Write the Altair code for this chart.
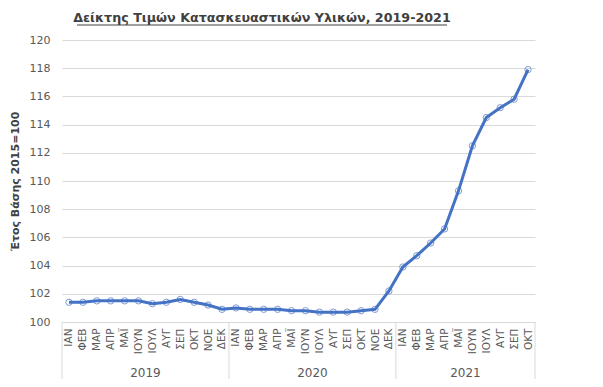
import altair as alt
import pandas as pd

# ---- data ----
month_names = ["ΙΑΝ", "ΦΕΒ", "ΜΑΡ", "ΑΠΡ", "ΜΑΪ", "ΙΟΥΝ", "ΙΟΥΛ", "ΑΥΓ", "ΣΕΠ", "ΟΚΤ", "ΝΟΕ", "ΔΕΚ"]
values_2019 = [101.4, 101.4, 101.5, 101.5, 101.5, 101.5, 101.3, 101.4, 101.6, 101.4, 101.2, 100.9]
values_2020 = [101.0, 100.9, 100.9, 100.9, 100.8, 100.8, 100.7, 100.7, 100.7, 100.8, 100.9, 102.2]
values_2021 = [103.9, 104.7, 105.6, 106.6, 109.3, 112.5, 114.5, 115.2, 115.8, 117.9]
year_names = ["2019", "2020", "2021"]
y_ticks = [100, 102, 104, 106, 108, 110, 112, 114, 116, 118, 120]
title_text = "Δείκτης Τιμών Κατασκευαστικών Υλικών, 2019-2021"
y_title = "Έτος Βάσης 2015=100"

series = [values_2019, values_2020, values_2021]
rows = []
i = 0
for yr, vals in zip(year_names, series):
    for k, v in enumerate(vals):
        rows.append({"idx": i, "month": month_names[k], "year": yr, "value": v})
        i += 1
df = pd.DataFrame(rows)

grp = df.groupby("year")["idx"].agg(["min", "max", "mean"]).reset_index()
bounds = sorted(set(list(grp["min"] - 0.5) + list(grp["max"] + 0.5)))
bounds_df = pd.DataFrame({"b": bounds})
year_df = pd.DataFrame({"year": grp["year"], "pos": grp["mean"]})

labels_js = "[" + ",".join("'" + m + "'" for m in df["month"]) + "]"

W, H = 473, 282
BLUE = "#4472C4"
GRAY = "#595959"
FONT = "DejaVu Sans"

xscale = alt.Scale(domain=[-0.5, len(df) - 0.5], nice=False, zero=False)
yscale = alt.Scale(domain=[100, 120], nice=False, zero=False)

x_axis = alt.Axis(
    values=[int(v) for v in df["idx"]], labelExpr=labels_js + "[datum.value]",
    labelAngle=270, labelFontSize=10.5, labelColor=GRAY, labelFont=FONT,
    labelPadding=6, ticks=False, grid=False, domainColor="#D9D9D9",
    title=None, labelOverlap=False, labelFlush=False, labelBound=False,
)
y_axis = alt.Axis(
    values=y_ticks, labelFontSize=11, labelColor=GRAY, labelFont=FONT,
    labelPadding=12, ticks=False, domain=False, gridColor="#D9D9D9",
    labelOverlap=False,
    title=y_title, titleFontSize=11, titleFontWeight="bold",
    titleColor="#404040", titleFont=FONT, titlePadding=9,
)

def xe(field):
    return alt.X(field, scale=xscale, axis=x_axis)

def ye(field):
    return alt.Y(field, scale=yscale, axis=y_axis)

base = alt.Chart(df)
line = base.mark_line(color=BLUE, strokeWidth=3).encode(x=xe("idx:Q"), y=ye("value:Q"))
pts = base.mark_point(color=BLUE, filled=False, size=40, strokeWidth=1).encode(
    x=xe("idx:Q"), y=ye("value:Q")
)

seps = alt.Chart(bounds_df).mark_rule(color="#D9D9D9", strokeWidth=1).encode(
    x=xe("b:Q"), y=alt.value(H), y2=alt.value(H + 61)
)
yrs = alt.Chart(year_df).mark_text(
    fontSize=12, color=GRAY, font=FONT, baseline="middle"
).encode(x=xe("pos:Q"), y=alt.value(H + 51), text="year:N")

one = alt.Data(values=[{"t": title_text}])
title = alt.Chart(one).mark_text(
    fontSize=12.7, fontWeight="bold", color="#404040", font=FONT,
    align="center", baseline="alphabetic",
).encode(x=alt.value(200), y=alt.value(-18), text="t:N")
underline = alt.Chart(one).mark_rule(color="#404040", strokeWidth=1).encode(
    x=alt.value(15), x2=alt.value(385), y=alt.value(-15)
)

chart = alt.layer(seps, line, pts, yrs, title, underline).properties(
    width=W, height=H,
    autosize=alt.AutoSizeParams(type="none"),
    padding={"left": 54, "top": 32, "right": 60, "bottom": 57},
    background="white",
).configure_view(stroke=None)

chart.save("out.html", embed_options={"renderer": "svg", "actions": False})
